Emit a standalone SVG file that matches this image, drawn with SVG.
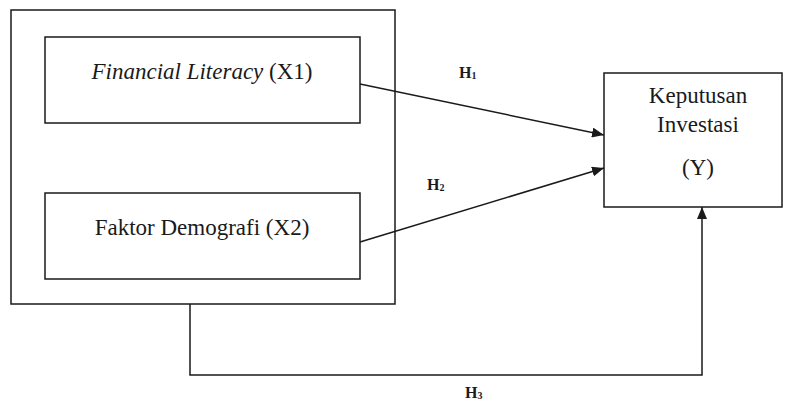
<svg xmlns="http://www.w3.org/2000/svg" width="785" height="403" viewBox="0 0 785 403">
<style>
.box{fill:none;stroke:#1a1a1a;stroke-width:1.5}
.t{font-family:'Liberation Serif','DejaVu Serif',serif;font-size:23px;fill:#1a1a1a;text-anchor:middle}
.h{font-family:'Liberation Serif','DejaVu Serif',serif;font-size:16px;font-weight:bold;fill:#1a1a1a}
.c{fill:none;stroke:#1a1a1a;stroke-width:1.5}
</style>
<defs>
<marker id="ah" viewBox="0 0 12 10" refX="12" refY="5" markerWidth="12" markerHeight="10" markerUnits="userSpaceOnUse" orient="auto">
<path d="M0,0 L12,5 L0,10 z" fill="#1a1a1a"/>
</marker>
</defs>
<rect width="785" height="403" fill="#fff"/>
<g id="group-x">
<rect class="box" x="11" y="10" width="384" height="294"/>
</g>
<g id="x1">
<rect class="box" x="45" y="37" width="315" height="86"/>
<text class="t" x="202" y="79"><tspan font-style="italic">Financial Literacy</tspan> (X1)</text>
</g>
<g id="x2">
<rect class="box" x="45" y="193" width="315" height="86"/>
<text class="t" x="202" y="235">Faktor Demografi (X2)</text>
</g>
<g id="y">
<rect class="box" x="604" y="73" width="178" height="134"/>
<text class="t" x="698" y="103">Keputusan</text>
<text class="t" x="698" y="132">Investasi</text>
<text class="t" x="698" y="175">(Y)</text>
</g>
<g id="connectors">
<line class="c" x1="360" y1="84" x2="604" y2="135" marker-end="url(#ah)"/>
<line class="c" x1="360" y1="242" x2="604" y2="168" marker-end="url(#ah)"/>
<polyline class="c" points="190,304 190,375 702,375 702,207" marker-end="url(#ah)"/>
</g>
<g id="labels">
<text class="h" x="459" y="78">H<tspan font-size="10" dy="1">1</tspan></text>
<text class="h" x="427" y="190">H<tspan font-size="10" dy="1">2</tspan></text>
<text class="h" x="465" y="398">H<tspan font-size="10" dy="1">3</tspan></text>
</g>
</svg>
